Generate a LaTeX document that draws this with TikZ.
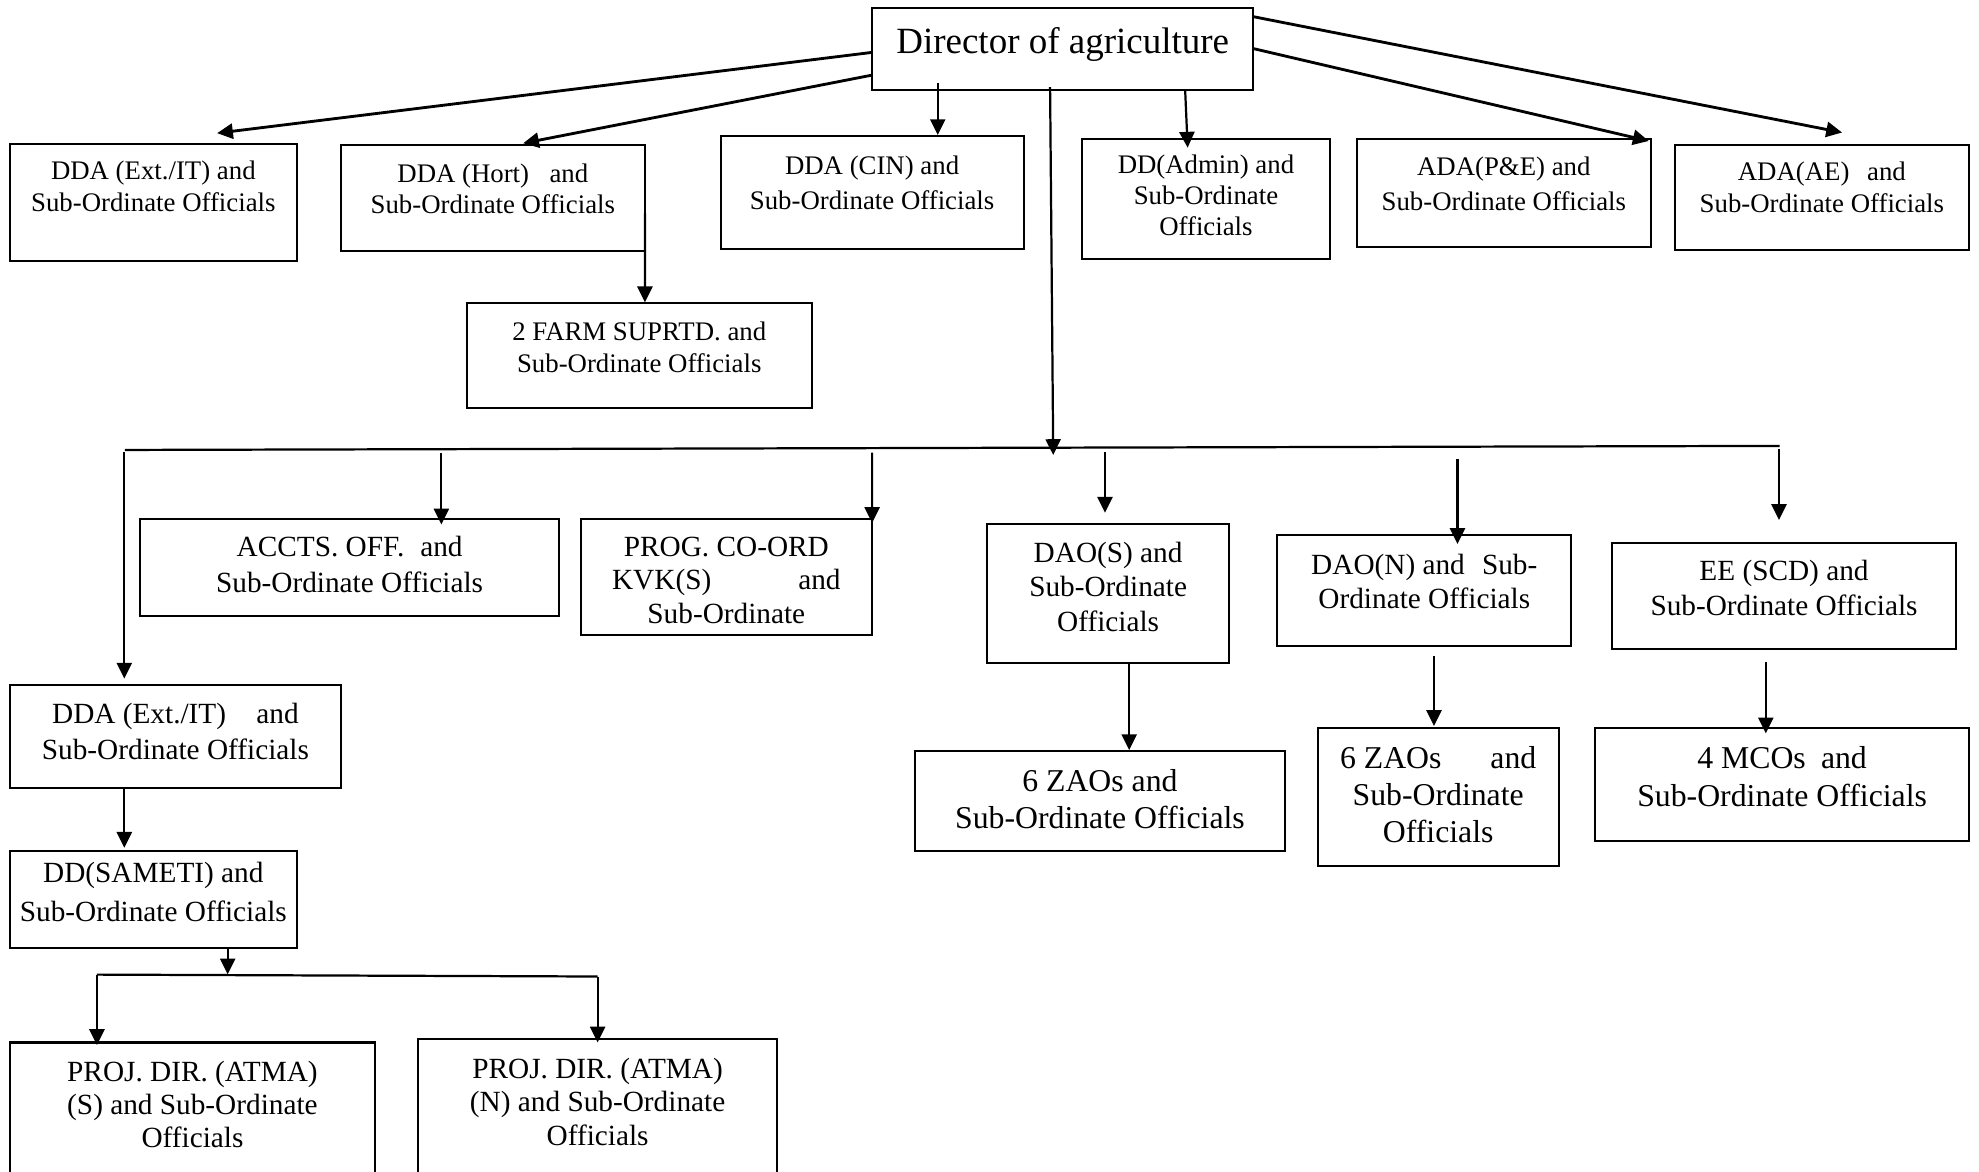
\documentclass[tikz,border=0pt]{standalone}
\usepackage{fontspec}
\setmainfont{Liberation Serif}
\usetikzlibrary{arrows.meta,calc}

\tikzset{
  orgbox/.style={draw, line width=1.15pt, inner sep=0pt, outer sep=0pt},
  link/.style={line width=1.25pt, -{Triangle[length=8.9pt,width=8.5pt]}},
  toplink/.style={link, line width=1.6pt},
  busline/.style={line width=1.25pt}
}

% #1 name, #2 x1, #3 y1, #4 x2, #5 y2 (px), #6 first baseline below top (px),
% #7 font size (pt), #8 line spacing (px), #9 text
\newcommand{\orgbox}[9]{%
  \pgfmathsetlengthmacro\obw{(#4-#2)*0.025cm}%
  \pgfmathsetlengthmacro\obh{(#5-#3)*0.025cm}%
  \pgfmathsetlengthmacro\obd{#6*0.025cm}%
  \pgfmathsetlengthmacro\obs{#8*0.025cm}%
  \node[orgbox, anchor=north west] (#1) at (#2,#3)
    {\parbox[c][\obh][t]{\obw}{\fontsize{#7}{\obs}\selectfont\centering\rule{0pt}{\obd}#9\par}};%
}

\begin{document}
\begin{tikzpicture}[x=0.025cm, y=-0.025cm]
\useasboundingbox (0,0) rectangle (1568,928);

% ---- top level ----
\orgbox{dir}{691}{6}{993}{71}{36.7}{20.84}{34}{Director of agriculture}

\orgbox{b1}{8}{114}{235}{207}{28.6}{15.1}{25.3}{DDA (Ext./IT) and\\Sub-Ordinate Officials}
\orgbox{b2}{270}{115}{511}{199}{29.7}{15.1}{24.5}{DDA (Hort)\hspace{0.405cm}and\\Sub-Ordinate Officials}
\orgbox{b3}{571}{108}{811}{197}{30.6}{15.1}{27.4}{DDA (CIN) and\\Sub-Ordinate Officials}
\orgbox{b4}{857}{110}{1054}{205}{27.7}{15.1}{24.5}{DD(Admin) and\\Sub-Ordinate\\Officials}
\orgbox{b5}{1075}{110}{1308}{196}{29}{15.1}{27.7}{ADA(P\&E) and\\Sub-Ordinate Officials}
\orgbox{b6}{1327}{115}{1560}{198}{28}{15.1}{25}{ADA(AE)\hspace{0.35cm}and\\Sub-Ordinate Officials}
\orgbox{farm}{370}{240}{643}{323}{30}{15.1}{25.5}{2 FARM SUPRTD. and\\Sub-Ordinate Officials}

% ---- second level ----
\orgbox{accts}{111}{411}{443}{488}{29.8}{16.5}{28.5}{ACCTS. OFF.\hspace{0.315cm}and\\Sub-Ordinate Officials}
\orgbox{prog}{460}{411}{691}{503}{29.8}{16.5}{26.6}{PROG. CO-ORD\\\makebox[4.525cm]{KVK(S)\hfill and}\\Sub-Ordinate}
\orgbox{daos}{782}{415}{974}{525}{30.9}{16.5}{27.1}{DAO(S) and\\Sub-Ordinate\\Officials}
\orgbox{daon}{1012}{424}{1245}{512}{31.2}{16.5}{27.2}{DAO(N) and\hspace{0.34cm}Sub-\\Ordinate Officials}
\orgbox{ee}{1277}{430}{1550}{514}{29.7}{16.5}{28}{EE (SCD) and\\Sub-Ordinate Officials}
\orgbox{ddax}{8}{543}{270}{624}{30.6}{16.5}{27.8}{DDA (Ext./IT)\hspace{0.6cm}and\\Sub-Ordinate Officials}

% ---- third level ----
\orgbox{sameti}{8}{674}{235}{751}{24.9}{16.5}{31.1}{DD(SAMETI) and\\Sub-Ordinate Officials}
\orgbox{zaos}{725}{595}{1018}{674}{32.3}{17.9}{29.1}{6 ZAOs and\\Sub-Ordinate Officials}
\orgbox{zaon}{1044}{577}{1235}{686}{31.9}{17.9}{29.3}{\makebox[3.885cm]{6 ZAOs\hfill and}\\Sub-Ordinate\\Officials}
\orgbox{mcos}{1264}{577}{1560}{666}{31.9}{17.9}{30.3}{4 MCOs\hspace{0.3cm}and\\Sub-Ordinate Officials}
\orgbox{projs}{8}{826}{297}{931}{31.1}{16.5}{26.2}{PROJ. DIR. (ATMA)\\(S) and Sub-Ordinate\\Officials}
\orgbox{projn}{331}{823}{616}{931}{31.5}{16.5}{26.5}{PROJ. DIR. (ATMA)\\(N) and Sub-Ordinate\\Officials}

% ---- distribution bars ----
\coordinate (busL) at (99,356.5);
\coordinate (busR) at (1410,353.3);
\coordinate (busT) at (834.5,360.5);
\coordinate (dropA) at (98.5,358.5);
\coordinate (dropB) at (349.7,358.6);
\coordinate (dropC) at (691,358.6);
\coordinate (dropD) at (875.5,358.4);
\coordinate (dropE) at (1154.8,364);
\coordinate (dropF) at (1409.5,356);
\coordinate (barL) at (76.8,772.2);
\coordinate (barR) at (473.5,773.7);
\coordinate (barT) at (180.4,772);

\draw[busline] (busL) -- (busR);
\draw[busline] (barL) -- (barR);

% ---- director to first row ----
\draw[toplink] ($(dir.north west)+(0,35.5)$) -- ($(b1.north west)+(164,-8.5)$);
\draw[toplink] ($(dir.north west)+(0,53.5)$) -- ($(b2.north west)+(144.5,-1.5)$);
\draw[link] ($(dir.south west)+(52,-5)$) -- ($(b3.north west)+(172,-1)$);
\draw[link] ($(dir.south west)+(248,0)$) -- ($(b4.north west)+(84,7)$);
\draw[toplink] ($(dir.north east)+(0.5,32.6)$) -- ($(b5.north east)+(-1.7,1.7)$);
\draw[toplink] ($(dir.north east)+(0.5,7.3)$) -- ($(b6.north west)+(132.5,-10)$);
\draw[link] ($(dir.south west)+(141,-2)$) -- (busT);
\draw[link] ($(b2.north east)+(0,54)$) -- ($(farm.north west)+(141,-0.5)$);

% ---- bus to second row ----
\draw[link] (dropA) -- ($(ddax.north west)+(90.5,-5.3)$);
\draw[link] (dropB) -- ($(accts.north west)+(238.7,4.5)$);
\draw[link] (dropC) -- ($(prog.north east)+(0,3.4)$);
\draw[link] (dropD) -- ($(daos.north west)+(93.5,-8.8)$);
\draw[link] (dropE) -- ($(daon.north west)+(142.8,7)$);
\draw[link] (dropF) -- ($(ee.north west)+(132.5,-18)$);

% ---- second row to third row ----
\draw[link] ($(daos.south west)+(112.7,0)$) -- ($(zaos.north west)+(169.7,-0.7)$);
\draw[link] ($(daon.south west)+(124.2,7.5)$) -- ($(zaon.north west)+(92.2,-1.8)$);
\draw[link] ($(ee.south west)+(122.1,10.8)$) -- ($(mcos.north west)+(135.1,4)$);
\draw[link] ($(ddax.south west)+(90.5,0)$) -- ($(sameti.north west)+(90.5,-2.3)$);
\draw[link] ($(sameti.south west)+(172.4,0)$) -- (barT);
\draw[link] (barL) -- ($(projs.north west)+(68.8,2)$);
\draw[link] (barR) -- ($(projn.north west)+(142.5,3)$);
\end{tikzpicture}
\end{document}
